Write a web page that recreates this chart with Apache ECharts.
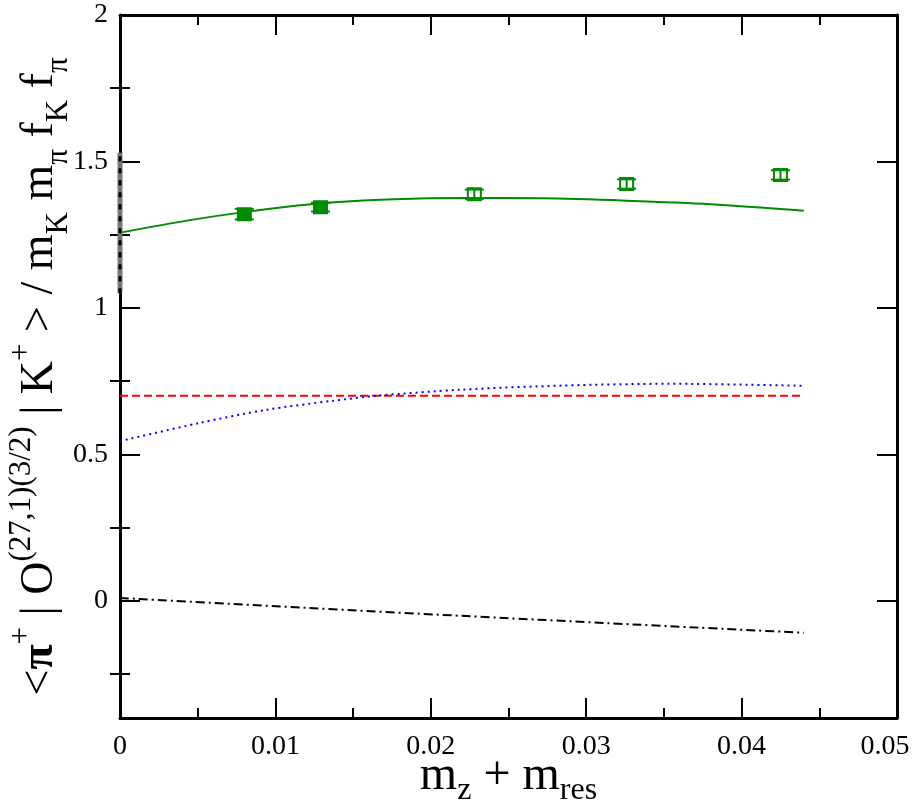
<!DOCTYPE html>
<html><head><meta charset="utf-8">
<script src="https://cdn.jsdelivr.net/npm/echarts@6/dist/echarts.min.js"></script>
<style>html,body{margin:0;padding:0;background:#fff}#c{width:913px;height:804px}</style>
</head><body><div id="c"></div>
<script>
// ---- data ----
const xLabelMax = 0.05;
const yMajor = [0, 0.5, 1, 1.5, 2];
const yMinor = [-0.25, 0.25, 0.75, 1.25, 1.75];
const filledX = [0.0080, 0.0129];
const filledY = [1.320, 1.344];
const filledErr = [0.018, 0.015];
const openX = [0.0228, 0.0326, 0.0425];
const openY = [1.388, 1.423, 1.454];
const openErr = [0.016, 0.016, 0.016];
const fitX = [0, 0.0043, 0.008, 0.0129, 0.0172, 0.0223, 0.0272, 0.0326, 0.038, 0.044];
const fitY = [1.257, 1.298, 1.327, 1.357, 1.370, 1.375, 1.374, 1.366, 1.354, 1.332];
const blueX = [0, 0.0051, 0.0094, 0.0137, 0.0165, 0.022, 0.0285, 0.0354, 0.0441];
const blueY = [0.545, 0.607, 0.652, 0.683, 0.700, 0.721, 0.735, 0.741, 0.734];
const redX = [0, 0.044];
const redY = [0.70, 0.70];
const blackX = [0, 0.0178, 0.044];
const blackY = [0.010, -0.040, -0.109];
const extrapX = [0, 0];
const extrapY = [1.05, 1.53];

const zip = (a, b) => a.map((v, i) => [v, b[i]]);
const F = '"Liberation Serif", "Times New Roman", serif';
const GREEN = '#008b00';

function errItem(filled) {
  return function (params, api) {
    const x = api.value(0), y = api.value(1), e = api.value(2);
    const c = api.coord([x, y]);
    const t = api.coord([x, y + e]);
    const b = api.coord([x, y - e]);
    const hw = 9.5;
    const st = { stroke: GREEN, lineWidth: 2, fill: null };
    return { type: 'group', children: [
      { type: 'line', shape: { x1: c[0], y1: t[1], x2: c[0], y2: b[1] }, style: st },
      { type: 'line', shape: { x1: c[0] - hw, y1: t[1], x2: c[0] + hw, y2: t[1] }, style: st },
      { type: 'line', shape: { x1: c[0] - hw, y1: b[1], x2: c[0] + hw, y2: b[1] }, style: st },
      { type: 'rect', shape: { x: c[0] - 6.5, y: c[1] - 6, width: 13, height: 12 },
        style: { stroke: GREEN, lineWidth: 2, fill: filled ? GREEN : null } }
    ]};
  };
}

const tickStyle = { color: '#000', width: 2 };
const xBase = {
  type: 'value', min: 0, max: 0.05, interval: 0.01,
  splitLine: { show: false },
  axisLine: { show: true, onZero: false, lineStyle: { color: '#000', width: 3 } },
  axisTick: { show: true, inside: true, length: 20, lineStyle: tickStyle },
  minorTick: { show: true, splitNumber: 2, length: 10, lineStyle: tickStyle }
};
const yBase = {
  type: 'value', min: -0.4, max: 2,
  splitLine: { show: false },
  axisLine: { show: true, onZero: false, lineStyle: { color: '#000', width: 3 } }
};

const option = {
  animation: false,
  backgroundColor: '#fff',
  grid: { left: 120, right: 16, top: 15, bottom: 86, containLabel: false, outerBoundsMode: 'none' },
  xAxis: [
    Object.assign({}, xBase, {
      position: 'bottom',
      axisLabel: {
        fontFamily: F, fontSize: 28, color: '#000', margin: 15,
        formatter: v => (Math.abs(v - xLabelMax) < 1e-9 ? '{r|' + v + '}' : String(v)),
        rich: { r: { fontFamily: F, fontSize: 28, color: '#000', padding: [0, 24, 0, 0] } }
      },
      name: '{m|m}{sub|z}{m| + m}{sub|res}',
      nameLocation: 'middle', nameGap: 27, nameMoveOverlap: false,
      nameTextStyle: {
        rich: {
          m: { fontFamily: F, fontSize: 48, color: '#000', lineHeight: 62 },
          sub: { fontFamily: F, fontSize: 32, color: '#000', verticalAlign: 'bottom' }
        }
      }
    }),
    Object.assign({}, xBase, { position: 'top', axisLabel: { show: false } })
  ],
  yAxis: [
    Object.assign({}, yBase, {
      position: 'left',
      axisTick: { show: true, inside: true, length: 20, lineStyle: tickStyle, customValues: yMajor },
      axisLabel: { fontFamily: F, fontSize: 28, color: '#000', margin: 12, customValues: yMajor },
      name: '{m|<}{pi|π}{sup|+}{m| | O}{sup|(27,1)(3/2)}{m| | K}{sup|+}{m| > / m}{sub|K}{m| m}{sub|π}{m| f}{sub|K}{m| f}{sub|π}',
      nameLocation: 'middle', nameRotate: 90, nameGap: 46, nameMoveOverlap: false,
      nameTextStyle: {
        padding: [0, 20, 0, 0],
        rich: {
          m: { fontFamily: F, fontSize: 46, color: '#000', lineHeight: 68 },
          pi: { fontFamily: F, fontSize: 46, fontWeight: 'bold', color: '#000', lineHeight: 68 },
          sup: { fontFamily: F, fontSize: 31, color: '#000', verticalAlign: 'top' },
          sub: { fontFamily: F, fontSize: 31, color: '#000', verticalAlign: 'bottom' }
        }
      }
    }),
    Object.assign({}, yBase, {
      position: 'left', axisLine: { show: false },
      axisTick: { show: true, inside: true, length: 10, lineStyle: tickStyle, customValues: yMinor },
      axisLabel: { show: false }
    }),
    Object.assign({}, yBase, {
      position: 'right',
      axisTick: { show: true, inside: true, length: 20, lineStyle: tickStyle, customValues: yMajor },
      axisLabel: { show: false }
    }),
    Object.assign({}, yBase, {
      position: 'right', axisLine: { show: false },
      axisTick: { show: true, inside: true, length: 10, lineStyle: tickStyle, customValues: yMinor },
      axisLabel: { show: false }
    })
  ],
  series: [
    { type: 'line', data: zip(redX, redY), showSymbol: false, symbol: 'none',
      lineStyle: { color: '#ff0000', width: 2, type: [8, 4] } },
    { type: 'line', data: zip(blueX, blueY), showSymbol: false, symbol: 'none', smooth: 0.3,
      lineStyle: { color: '#0000ff', width: 2, type: [2, 4] } },
    { type: 'line', data: zip(blackX, blackY), showSymbol: false, symbol: 'none', smooth: true,
      lineStyle: { color: '#000', width: 2, type: [9, 4, 2, 4] } },
    { type: 'line', data: zip(fitX, fitY), showSymbol: false, symbol: 'none', smooth: 0.3,
      lineStyle: { color: GREEN, width: 2 } },
    { type: 'line', data: zip(extrapX, extrapY), showSymbol: false, symbol: 'none', clip: false,
      lineStyle: { color: '#777', width: 5 }, z: 5 },
    { type: 'line', data: zip(extrapX, extrapY), showSymbol: false, symbol: 'none', clip: false,
      lineStyle: { color: '#000', width: 3, type: [5, 7] }, z: 6 },
    { type: 'custom', renderItem: errItem(true), clip: false, z: 7,
      data: filledX.map((v, i) => [v, filledY[i], filledErr[i]]) },
    { type: 'custom', renderItem: errItem(false), clip: false, z: 7,
      data: openX.map((v, i) => [v, openY[i], openErr[i]]) }
  ]
};
const chart = echarts.init(document.getElementById('c'));
chart.setOption(option);
</script>
</body></html>
